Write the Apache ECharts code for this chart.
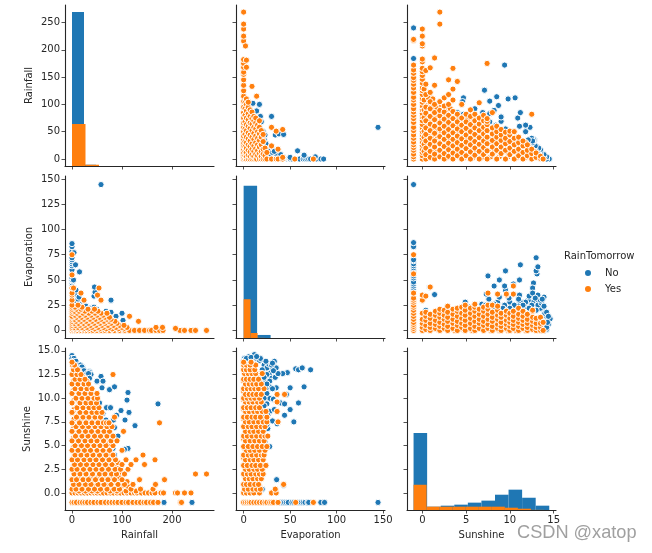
<!DOCTYPE html>
<html><head><meta charset="utf-8">
<style>html,body{margin:0;padding:0;background:#fff}#c{width:652px;height:553px}</style>
<script src="https://cdn.jsdelivr.net/npm/echarts@6/dist/echarts.min.js"></script>
</head><body><div id="c"></div>
<script>
const variables = ['Rainfall','Evaporation','Sunshine'];
const classes = ['No','Yes'];
const rainTicks = [0,100,200];
const evapTicks = [0,50,100,150];
const sunTicks = [0,5,10,15];
const rainRowTicks = [0,50,100,150,200,250];
const evapRowTicks = [0,25,50,75,100,125,150];
const sunRowTicks = [0,2.5,5,7.5,10,12.5,15];

// histograms: [bin start, bin end, count]
const rainHistNo = [[0,24,110000],[24,48,900]];
const rainHistYes = [[0,27,30000],[27,54,900]];
const evapHistNo = [[0,14.5,110000],[14.5,29,2200]];
const evapHistYes = [[0,7.5,28000],[7.5,15,3600],[15,22.5,100]];
const sunHistNo = [[-1,0.55,53400],[0.55,2.1,2300],[2.1,3.65,3000],[3.65,5.2,3700],[5.2,6.75,5100],[6.75,8.3,6500],[8.3,9.85,10600],[9.85,11.4,14100],[11.4,12.95,8500],[12.95,14.5,3000]];
const sunHistYes = [[-1,0.49,17500],[0.49,1.98,2300],[1.98,3.47,2300],[3.47,4.96,2300],[4.96,6.45,2300],[6.45,7.94,2300],[7.94,9.43,2300],[9.43,10.92,1600],[10.92,12.41,900],[12.41,13.9,100]];

// orange rows: [sunshine, rainfall, rainfall, ...]
const yesSunRain = [
[-1,0,4,9,16,21,26,31,38,44,52,58,67,74,80,86,92,100,108,113,122,130,137,144,149,157,163,172,217,219],
[0,0,6,12,18,25,31,38,44,50,57,63,70,77,83,90,97,104,110,118,125,130,139,146,153,160,166,178,183,207,211,225,238],
[0.2,14,27,40,51,76,90,108,128],[0.7,9,21,44,61,73,99,112],[1.2,5,17,41,56,68,81,95,110],[1.7,13,28,37,52,66,78,93],[2.2,9,21,35,48,60,72,84,98],
[2.8,3,13,26,39,51,64,77,91],[3.2,11,23,35,48,61,73,92],[3.8,4,16,29,43,55,67,79],[4.2,12,24,36,49,62,75],[4.8,3,15,27,40,52,65,78],[5.2,10,25,37,50,62,74],
[5.8,3,16,28,41,54,66,75],[6.2,13,26,38,51,63,76],[6.8,3,15,27,39,52,64],[7.2,13,26,39,50,60],[7.8,4,17,30,42,53],[8.2,13,25,37,49],[8.8,4,18,30,41,50],
[9.2,14,27,38,48],[9.8,4,12,24,36,46],[10.2,15,27,39],[10.8,3,13,24,36],[11.2,11,22,34],[11.8,3,11,20,30],[12.2,12,22],[12.8,6,14],
[0.4,0,8,20,33,45,57,70,84,95,118,137,162],[0.9,3,14,27,38,52,64,78,92,105,122,167],[1.4,0,9,22,33,47,60,72,85,100,135,185],
[2,4,16,28,41,55,66,79,89,105,247,269],[2.5,0,10,23,36,48,60,73,86,97,112],[3,5,17,29,42,54,67,80,100,118,145],
[3.5,0,11,24,36,48,61,74,87,108,128,166],[4,6,18,30,42,55,68,82,142],[4.5,0,12,25,37,50,62,75,100],[5,6,19,31,44,56,68,82],
[5.5,0,13,26,38,50,63,78,90],[6,7,20,32,45,57,70,82],[6.5,0,14,27,39,52,64,75,103],[7,8,21,33,46,58,70,80],
[7.4,0,15,28,40,52,63,69,74,175],[8,9,22,34,46,57,85],[8.5,0,16,28,40,50,60],[9,10,22,34,44,54],[9.5,0,16,28,38,49],
[10,8,20,32,44,51],[10.5,0,14,26,38,50],[11,6,18,30,40],[11.5,0,12,24,33],[12,6,16,26],[12.5,0,10,18,82],[13,3,11],[13.5,1,5],[13.8,0]];
// blue points: [rainfall, sunshine]
const noRainSun = [[240,-1],[184,-1],[0,14.5],[0,14.2],[4,14.2],[3,13.9],[8,13.9],[6,13.5],[12,13.5],[17,13.5],[14,13.2],[18,13.2],[22,13.2],[20,13.3],[16,12.9],[24,12.9],[35,12.8],[36,12.7],[32,12.6],[38,12.5],[30,12.6],[33,12.6],[58,12.3],[35,12.1],[50,11.8],[62,11.8],[30,11.5],[60,11.1],[75,10.9],[85,11.2],[112,10.6],[35,10.7],[110,9.8],[172,9.4],[55,9.5],[114,8.5],[98,8.7],[89,8.2],[69,9],[77,9],[62,8.4],[106,7.7],[68,7.7],[126,7.1],[85,6.9],[75,6.8],[75,6.5],[75,5.4],[79,5.4],[82,4.7],[112,4.7],[85,4],[108,1],[120,0.8],[79,2],[89,1.7],[95,1.4],[83,7.7],[92,6],[105,4.6]];

// orange rows: [sunshine, evaporation, ...]
const yesSunEvap = [
[-1,0,2,4,6,8,11,14,17,20,23,25,28,30,32,37,56,75],[0,0,3,7,11,17,30,35],
[0.7,2,8,13,17],[1.2,4,9,14],[1.8,1,8,12,17],[2.2,3,10,15,19],[2.7,4,8,13,17],[3.2,2,6,11,15,20],[3.7,0,5,9,14,18],[4.2,3,7,12,16],[4.7,1,5,10,14,19],[5.2,3,8,12,18],[5.7,0,5,10,15,19],
[6.2,2,7,12,16],[6.8,4,9,13,18],[7.2,2,7,12,17],[7.8,0,4,9,14,19],[8.3,2,7,11,16],[8.8,0,4,9,13,18],[9.3,2,6,11,15],[9.8,0,4,8,13,17],[10.2,2,6,10,15],[10.7,0,4,8,12,17],[11.2,2,6,10,14],[11.8,0,4,8,12,17],[12.3,2,5,9,14],[12.8,3,7,11],
[0.4,1,5,10,14,18,34],[0.9,0,3,7,12,16,43],[1.5,2,6,10,15,19],
[2,0,4,8,13,17,21],[2.5,2,6,11,15,20],[2.9,0,4,9,13,18,24],[3.5,2,7,11,16,21],[4,0,5,9,14,19,22],[4.5,3,7,12,17,23],[4.9,0,5,10,15,20,25],
[5.5,2,7,12,17,22],[6,0,4,9,14,19,23,26],[6.5,2,7,11,16,21],[7,0,5,9,14,19,23],[7.5,2,6,11,16,21,25,37],[8,0,4,9,13,18,25],
[8.6,2,6,11,15,20,24,36],[9,0,4,8,13,17],[9.6,2,6,10,15,19,35,36],[10,0,4,8,12,17],[10.4,2,6,10,14,19,36,44],[11,0,4,8,12,16,22],
[11.5,2,6,10,14,19],[12,0,3,7,11,16],[12.6,1,5,9,13,19,20],[13,0,3,7,12],[13.5,0,3,7,13],[13.8,0,8]];
// blue points: [evaporation, sunshine]
const noEvapSun = [[38,-1],[40,-1],[42,-1],[44,-1],[46,-1],[48,-1],[52,-1],[54,-1],[58,-1],[62,-1],[64,-1],[66,-1],[69,-1],[70,-1],[83,-1],[87,-1],[144.5,-1],
[11.5,14.6],[6,14.4],[1,14.2],[20,13.9],[33,13.9],[35,13.2],[56,13.1],[59,13],[63,13.2],[72,13],[47,12.7],[42,12.6],[28,13],[28,12.6],[35,12.5],[30,12.1],[34,12.2],[37,12.6],[22,11.9],[28,11.8],[28,11.2],[35,11.1],[50,11.1],[65,11.2],[46,10.4],[28,10],[20,9.5],[32,9.9],[40,9.5],[44,9.4],[59,9.5],[28,8.6],[33,8.8],[50,8.8],[44,8.2],[31,7.6],[36,7.3],[54,7.5],[26,6.8],[23,5.4],[28,4.9],[35.5,1.4],[43,0.8],[20,0.4],[22,2.8],
[0,13.9],[3,14.2],[8,14.3],[14,14.2],[17,14],[22,13.5],[25,13.2],[27,13.6],[30,13.5],[25,12.5],[22,12.2],[24,11],[21,10.8],[25,10.5],[22,10],[25,9.4],[22,9.2],[22,8],[25,7.2],[22,7],[21,6.2],[20,4.8],[24,13.9],[18,14.2],[14,14.4],[32,12.9],[31,13.7],[25,11.5],[31,11],[20,13],[26,8.2],[24,6]];

// orange rows: [evaporation, rainfall, ...]
const yesEvapRain = [
[4,10,24,35,57,70,90],[8,11,26,38,62,80],[12,4,11,27,40,60],[16,4,17,30,43,54],[20,4,13,24,38],
[0,0,4,8,12,18,24,30,36,42,50,58,66,75,85,95,105,115,125,135,145,155,159,168,175,182,216,225,238,247,269],
[1.5,0,6,14,22,32,45,55,68,80,92,103],[3,0,5,12,20,30,40,52,63,75,88,100,110,168,181],[2,207],[5,0,7,16,26,37,48,60,72,83,95,104],
[7,0,5,13,23,33,44,56,66,78,90],[9,0,8,18,28,40,52,64,74,86,133],[11,0,5,14,24,36,47,58,70,78],[13,0,9,19,30,42,55,66,75],[14,0,115],
[15,6,15,26,38,50,62],[17,0,10,22,34,46,58,70],[19,0,5,14,26,40,52],[21,0,9,18,32,45],[23,0,6,20],[25,0,12],[30,0,24,58],[35,0,51],[37,0,18],[42,0,3,54],[55,0],[75,0]];
// blue points: [rainfall, evaporation]
const noRainEvap = [[0,43],[0,45],[0,47],[0,49],[0,50],[0,52],[0,56],[0,60],[0,64],[0,66],[0,68],[0,70],[0,72],[0,78],[0,83],[0,86],[78,30],[44,34],[46,38],[45,43],[15,58],[7,65],[4,77],[58,144.5],[5,25],[9,28],[15,26],[25,24],[12,31],[20,23],[28,24],[32,20],[36,22],[50,21],[44,23],[100,17],[88,14],[78,18],[68,19],[102,10],[6,36],[4,42],[8,40],[3,50],[14,33]];

const BLUE='#1f77b4', ORANGE='#ff7f0e', INK='#262626';
const rowsToPairs = rows => rows.flatMap(([k,...vs]) => vs.map(v => [v,k]));
const swap = pts => pts.map(([a,b]) => [b,a]);
const yesRainSun = rowsToPairs(yesSunRain);
const yesEvapSun = rowsToPairs(yesSunEvap);
const yesRainEvap = rowsToPairs(yesEvapRain);

const colLeft = [65,236,407], colW = 149;
const rowTop = [5,176,348], rowH = [161,162,162];
const xRange = [[-14,284],[-8.2,152],[-1.75,15.27]];
const yRange = [[-12.8,282],[-7.5,153],[-1.8,15.3]];
const xTicks = [rainTicks,evapTicks,sunTicks];
const yTicks = [rainRowTicks,evapRowTicks,sunRowTicks];
const yFmt = [v=>String(v), v=>String(v), v=>v.toFixed(1)];
const histMax = [115000,117000,112300];
const nameGapY = [31,31,33];

const grid=[], xAxis=[], yAxis=[], series=[];
const axisLine={show:true,onZero:false,lineStyle:{color:INK,width:1.1}};
for(let r=0;r<3;r++)for(let c=0;c<3;c++){
  const i=grid.length;
  grid.push({left:colLeft[c],top:rowTop[r],width:colW,height:rowH[r]});
  xAxis.push({gridIndex:i,type:'value',min:xRange[c][0],max:xRange[c][1],splitLine:{show:false},axisLine,
    axisTick:{show:true,length:3.5,customValues:xTicks[c],lineStyle:{color:INK,width:0.8}},
    axisLabel:{show:r===2,customValues:xTicks[c],color:INK,fontSize:10,fontFamily:'DejaVu Sans',margin:5},
    name:r===2?variables[c]:'',nameLocation:'middle',nameGap:20,nameTextStyle:{color:INK,fontSize:10,fontFamily:'DejaVu Sans'}});
  yAxis.push({gridIndex:i,type:'value',min:yRange[r][0],max:yRange[r][1],splitLine:{show:false},axisLine,
    axisTick:{show:true,length:3.5,customValues:yTicks[r],lineStyle:{color:INK,width:0.8}},
    axisLabel:{show:c===0,customValues:yTicks[r],formatter:yFmt[r],color:INK,fontSize:10,fontFamily:'DejaVu Sans',margin:5},
    name:c===0?variables[r]:'',nameLocation:'middle',nameGap:nameGapY[r],nameTextStyle:{color:INK,fontSize:10,fontFamily:'DejaVu Sans'}});
}
function scatter(name,r,c,data,color){
  series.push({type:'scatter',name,xAxisIndex:r*3+c,yAxisIndex:r*3+c,data,symbol:'circle',symbolSize:6.2,
    itemStyle:{color,borderColor:'#fff',borderWidth:1,opacity:1},animation:false,silent:true,z:color===BLUE?2:3});
}
const panels=[
  [0,1,swap(noRainEvap),swap(yesRainEvap)],
  [0,2,swap(noRainSun),swap(yesRainSun)],
  [1,0,noRainEvap,yesRainEvap],
  [1,2,swap(noEvapSun),swap(yesEvapSun)],
  [2,0,noRainSun,yesRainSun],
  [2,1,noEvapSun,yesEvapSun]];
panels.forEach(([r,c,no,yes])=>{scatter(classes[0],r,c,no,BLUE);scatter(classes[1],r,c,yes,ORANGE);});
function hist(k,data,color){
  const ax=yAxis.length;
  yAxis.push({gridIndex:k*4,type:'value',show:false,min:0,max:histMax[k],position:'right'});
  series.push({type:'custom',name:color===BLUE?'hist-no':'hist-yes',xAxisIndex:k*4,yAxisIndex:ax,data,silent:true,animation:false,
    z:color===BLUE?2:3,encode:{x:[0,1],y:2},
    renderItem:(p,api)=>{
      const a=api.coord([api.value(0),api.value(2)]), b=api.coord([api.value(1),0]);
      return {type:'rect',shape:{x:a[0],y:a[1],width:b[0]-a[0],height:b[1]-a[1]},style:{fill:color}};
    }});
}
hist(0,rainHistNo,BLUE);hist(0,rainHistYes,ORANGE);
hist(1,evapHistNo,BLUE);hist(1,evapHistYes,ORANGE);
hist(2,sunHistNo,BLUE);hist(2,sunHistYes,ORANGE);

const chart=echarts.init(document.getElementById('c'),null,{renderer:'canvas'});
chart.setOption({animation:false,backgroundColor:'#fff',grid,xAxis,yAxis,series,
  legend:{show:true,data:classes,orient:'vertical',left:578,top:263,itemWidth:8,itemHeight:8,itemGap:6,icon:'circle',selectedMode:false,
    textStyle:{color:INK,fontSize:10,fontFamily:'DejaVu Sans',padding:[0,0,0,8]}},
  graphic:[
    {type:'text',left:564,top:251,silent:true,style:{text:'RainTomorrow',fill:INK,font:'10px "DejaVu Sans"'}},
    {type:'text',left:517,top:524,silent:true,style:{text:'CSDN @xatop',fill:'#a0a0a0',font:'18.2px "Liberation Sans"',shadowColor:'rgba(90,90,90,0.6)',shadowBlur:1,shadowOffsetX:1,shadowOffsetY:1}}
  ]});
</script></body></html>
